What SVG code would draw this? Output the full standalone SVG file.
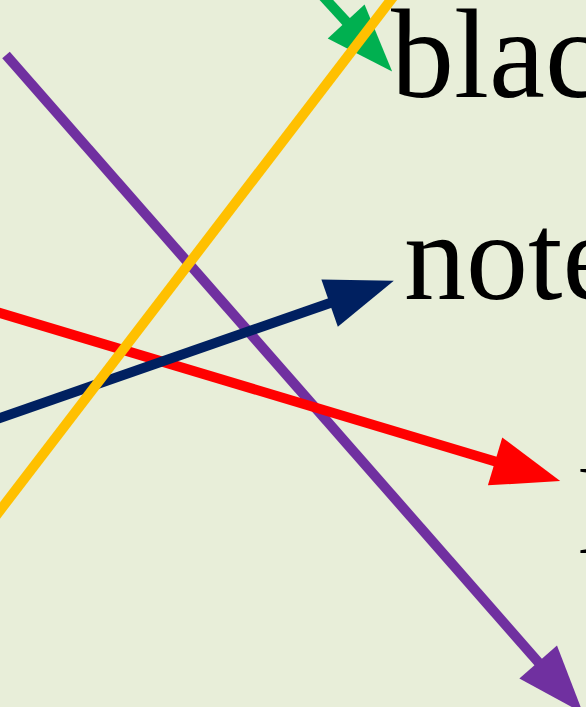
<svg xmlns="http://www.w3.org/2000/svg" width="586" height="707" viewBox="0 0 586 707">
  <style>
    .ln { fill: none; stroke-width: 10; stroke-linecap: butt; }
    .lbl { font-family: "Liberation Serif", "Times New Roman", serif; fill: #000000; }
  </style>
  <defs>
    <marker id="ah-purple" markerUnits="userSpaceOnUse" markerWidth="70" markerHeight="52" refX="2" refY="25" orient="auto" overflow="visible">
      <path d="M0,0 L68,25 L0,50 Z" fill="#7030A0"/>
    </marker>
    <marker id="ah-red" markerUnits="userSpaceOnUse" markerWidth="70" markerHeight="52" refX="2" refY="25" orient="auto" overflow="visible">
      <path d="M0,0 L68,25 L0,50 Z" fill="#FF0000"/>
    </marker>
    <marker id="ah-navy" markerUnits="userSpaceOnUse" markerWidth="70" markerHeight="52" refX="2" refY="25" orient="auto" overflow="visible">
      <path d="M0,0 L68,25 L0,50 Z" fill="#002060"/>
    </marker>
    <marker id="ah-green" markerUnits="userSpaceOnUse" markerWidth="70" markerHeight="52" refX="2" refY="25" orient="auto" overflow="visible">
      <path d="M0,0 L68,25 L0,50 Z" fill="#00B050"/>
    </marker>
  </defs>
  <rect x="0" y="0" width="586" height="707" fill="#E8EED9"/>
  <g id="labels">
    <g id="node-black"><text class="lbl" x="391" y="97" font-size="126">blac</text></g>
    <g id="node-note"><text class="lbl" x="404" y="299" font-size="124">note</text></g>
    <g id="node-third"><text class="lbl" x="578" y="553" font-size="120">l</text></g>
  </g>
  <g id="connectors">
    <line class="ln" x1="6" y1="55" x2="539.5" y2="663.5" stroke="#7030A0" marker-end="url(#ah-purple)"/>
    <line class="ln" x1="-10" y1="310" x2="497" y2="462" stroke="#FF0000" marker-end="url(#ah-red)"/>
    <line class="ln" x1="-10" y1="421.5" x2="331.5" y2="302.5" stroke="#002060" marker-end="url(#ah-navy)"/>
    <line class="ln" x1="308" y1="-20" x2="347.5" y2="23" stroke="#00B050" marker-end="url(#ah-green)"/>
    <line class="ln" x1="400" y1="-12" x2="-15" y2="530" stroke="#FFC000"/>
  </g>
</svg>
